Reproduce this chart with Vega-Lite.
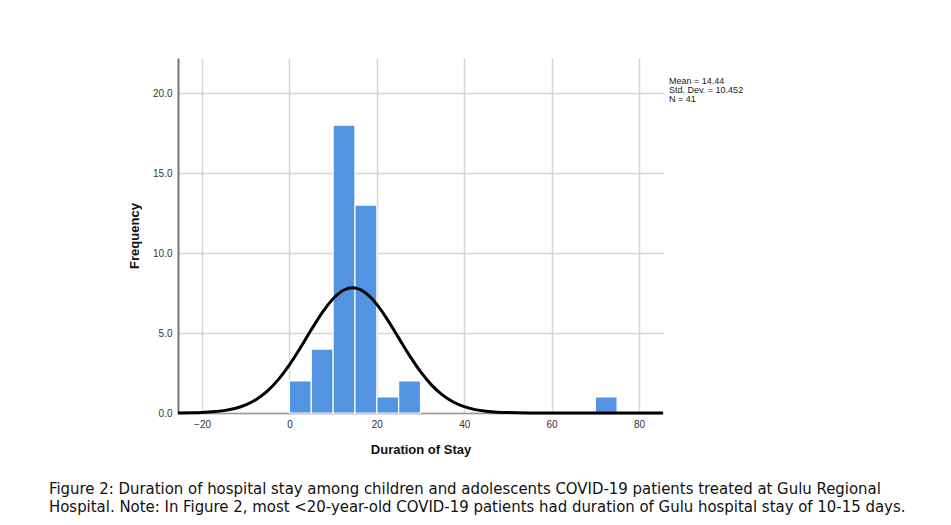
{
  "$schema": "https://vega.github.io/schema/vega-lite/v6.json",
  "width": 485,
  "height": 355,
  "autosize": {"type": "none"},
  "padding": {"left": 178, "top": 58, "right": 288, "bottom": 112},
  "background": "white",
  "config": {
    "view": {"stroke": null},
    "font": "Liberation Sans",
    "axis": {"labelFont": "Liberation Sans", "titleFont": "Liberation Sans"}
  },
  "title": {
    "text": ["Figure 2: Duration of hospital stay among children and adolescents COVID-19 patients treated at Gulu Regional", "Hospital. Note: In Figure 2, most <20-year-old COVID-19 patients had duration of Gulu hospital stay of 10-15 days."],
    "orient": "bottom",
    "anchor": "start",
    "frame": "group",
    "dx": -129,
    "offset": 25,
    "font": "DejaVu Sans Condensed",
    "fontSize": 16.6,
    "fontWeight": "normal",
    "lineHeight": 18,
    "color": "#111111"
  },
  "datasets": {
    "bins": [
      {"x": 0, "x2": 5, "y": 2},
      {"x": 5, "x2": 10, "y": 4},
      {"x": 10, "x2": 15, "y": 18},
      {"x": 15, "x2": 20, "y": 13},
      {"x": 20, "x2": 25, "y": 1},
      {"x": 25, "x2": 30, "y": 2},
      {"x": 70, "x2": 75, "y": 1}
    ],
    "curve": [
      {"x": -25.5, "y": 0.005},
      {"x": -22.5, "y": 0.015},
      {"x": -20, "y": 0.034},
      {"x": -17.5, "y": 0.073},
      {"x": -15, "y": 0.148},
      {"x": -12.5, "y": 0.282},
      {"x": -10, "y": 0.508},
      {"x": -7.5, "y": 0.864},
      {"x": -5, "y": 1.387},
      {"x": -2.5, "y": 2.104},
      {"x": 0, "y": 3.013},
      {"x": 2.5, "y": 4.074},
      {"x": 5, "y": 5.203},
      {"x": 7.5, "y": 6.277},
      {"x": 10, "y": 7.149},
      {"x": 12.5, "y": 7.691},
      {"x": 14.44, "y": 7.825},
      {"x": 15, "y": 7.814},
      {"x": 17.5, "y": 7.496},
      {"x": 20, "y": 6.793},
      {"x": 22.5, "y": 5.812},
      {"x": 25, "y": 4.697},
      {"x": 27.5, "y": 3.584},
      {"x": 30, "y": 2.584},
      {"x": 32.5, "y": 1.758},
      {"x": 35, "y": 1.131},
      {"x": 37.5, "y": 0.686},
      {"x": 40, "y": 0.394},
      {"x": 42.5, "y": 0.213},
      {"x": 45, "y": 0.109},
      {"x": 47.5, "y": 0.053},
      {"x": 50, "y": 0.024},
      {"x": 55, "y": 0.004},
      {"x": 60, "y": 0.0005},
      {"x": 70, "y": 0},
      {"x": 85.5, "y": 0}
    ]
  },
  "layer": [
    {
      "data": {"name": "bins"},
      "mark": {"type": "rect", "fill": "#5294e2", "stroke": "white", "strokeWidth": 1.2},
      "encoding": {
        "x": {
          "field": "x", "type": "quantitative",
          "scale": {"domain": [-25.5, 85.5], "nice": false, "zero": false},
          "axis": {
            "title": "Duration of Stay",
            "values": [-20, 0, 20, 40, 60, 80],
            "grid": true, "gridColor": "#d6d6d6", "gridWidth": 1.5,
            "ticks": false, "labelPadding": 6,
            "labelFontSize": 10, "labelColor": "#333333",
            "domainColor": "#999999", "domainWidth": 1.5,
            "titleFontSize": 13, "titleFontWeight": "bold", "titleColor": "#111111",
            "titlePadding": 14
          }
        },
        "x2": {"field": "x2"},
        "y": {
          "field": "y", "type": "quantitative",
          "scale": {"domain": [0, 22.2], "nice": false},
          "axis": {
            "title": "Frequency",
            "values": [0, 5, 10, 15, 20],
            "format": ".1f",
            "grid": true, "gridColor": "#d6d6d6", "gridWidth": 1.5,
            "ticks": false, "labelPadding": 6,
            "labelFontSize": 10, "labelColor": "#333333",
            "domainColor": "#777777", "domainWidth": 2,
            "titleFontSize": 13, "titleFontWeight": "bold", "titleColor": "#111111",
            "titlePadding": 11
          }
        },
        "y2": {"datum": 0}
      }
    },
    {
      "data": {"name": "curve"},
      "mark": {"type": "line", "color": "black", "strokeWidth": 3, "interpolate": "monotone"},
      "encoding": {
        "x": {"field": "x", "type": "quantitative"},
        "y": {"field": "y", "type": "quantitative"}
      }
    },
    {
      "data": {"values": [{"label": "Mean = 14.44\nStd. Dev. = 10.452\nN = 41"}]},
      "mark": {"type": "text", "align": "left", "baseline": "top", "lineBreak": "\n", "fontSize": 9, "lineHeight": 9, "dx": 6, "color": "#222222", "clip": false},
      "encoding": {
        "x": {"datum": 85.5, "type": "quantitative"},
        "y": {"datum": 21.0, "type": "quantitative"},
        "text": {"field": "label"}
      }
    }
  ]
}
